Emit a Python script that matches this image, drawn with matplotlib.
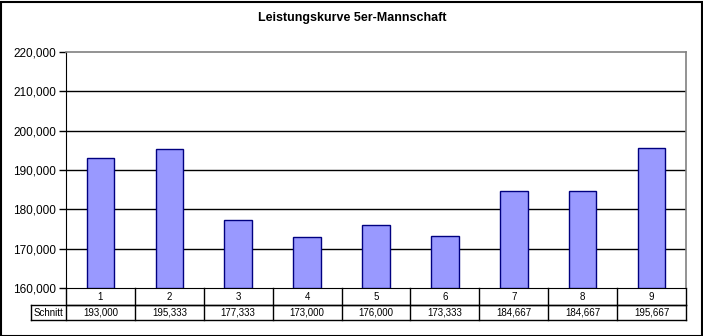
import matplotlib.pyplot as plt
from matplotlib.patches import Rectangle
from matplotlib.ticker import FuncFormatter
import matplotlib.transforms as mtransforms

plt.rcParams['font.family'] = ['Liberation Sans', 'DejaVu Sans']

# Daten
runden = ['1', '2', '3', '4', '5', '6', '7', '8', '9']
schnitt = [193000, 195333, 177333, 173000, 176000, 173333, 184667, 184667, 195667]
zeile_label = 'Schnitt'

W, H = 703, 336
fig = plt.figure(figsize=(W / 100, H / 100), dpi=100)

# Plotbereich in Pixeln (links, oben, rechts, unten)
L, T, R, B = 66, 52, 686, 288
ax = fig.add_axes([L / W, (H - B) / H, (R - L) / W, (B - T) / H])

x = list(range(len(runden)))
ax.bar(x, [v - 160000 for v in schnitt], bottom=160000, width=0.4,
       color='#9999FF', edgecolor='#000080', linewidth=1, zorder=3)

ax.set_xlim(-0.5, len(runden) - 0.5)
ax.set_ylim(160000, 220000)
ax.set_yticks(range(160000, 220001, 10000))
ax.yaxis.set_major_formatter(FuncFormatter(lambda v, p: f'{int(v):,}'))
ax.tick_params(axis='y', length=5, width=1, color='black', labelsize=8.5, pad=2)
ax.set_xticks([])
# Gitternetz nur innen, oben bleibt die graue Rahmenlinie
for yv in range(170000, 220000, 10000):
    ax.axhline(yv, color='black', linewidth=1, zorder=1)

for s in ['top', 'right']:
    ax.spines[s].set_color('#808080')
    ax.spines[s].set_linewidth(1.2)
ax.spines['left'].set_color('black')
ax.spines['bottom'].set_color('black')

# Datentabelle unter dem Diagramm
trans = mtransforms.blended_transform_factory(ax.transData, ax.transAxes)
ph = B - T
y1 = -17 / ph
y2 = -32 / ph
x_left = -0.5 - (L - 31) / ((R - L) / len(runden))
line_kw = dict(color='black', linewidth=1, transform=trans, clip_on=False)
ax.plot([-0.5, len(runden) - 0.5], [y1, y1], **line_kw)
ax.plot([x_left, len(runden) - 0.5], [y1, y1], **line_kw)
ax.plot([x_left, len(runden) - 0.5], [y2, y2], **line_kw)
ax.plot([x_left, x_left], [y1, y2], **line_kw)
for i in range(len(runden) + 1):
    ax.plot([i - 0.5, i - 0.5], [0, y2], **line_kw)

for i, (r, v) in enumerate(zip(runden, schnitt)):
    ax.text(i, y1 / 2, r, transform=trans, ha='center', va='center', fontsize=7)
    ax.text(i, (y1 + y2) / 2, f'{v:,}', transform=trans, ha='center', va='center', fontsize=7)
ax.text((x_left - 0.5) / 2, (y1 + y2) / 2, zeile_label, transform=trans,
        ha='center', va='center', fontsize=7)

fig.text(352 / W, 1 - 18 / H, 'Leistungskurve 5er-Mannschaft',
         ha='center', va='center', fontsize=9, fontweight='bold')

# Rahmen um die ganze Grafik
fig.patches.append(Rectangle((0.5 / W, 0.5 / H), 1 - 2 / W, 1 - 2 / H,
                             transform=fig.transFigure, fill=False,
                             edgecolor='black', linewidth=1.5))

fig.savefig('out.png', dpi=100)
